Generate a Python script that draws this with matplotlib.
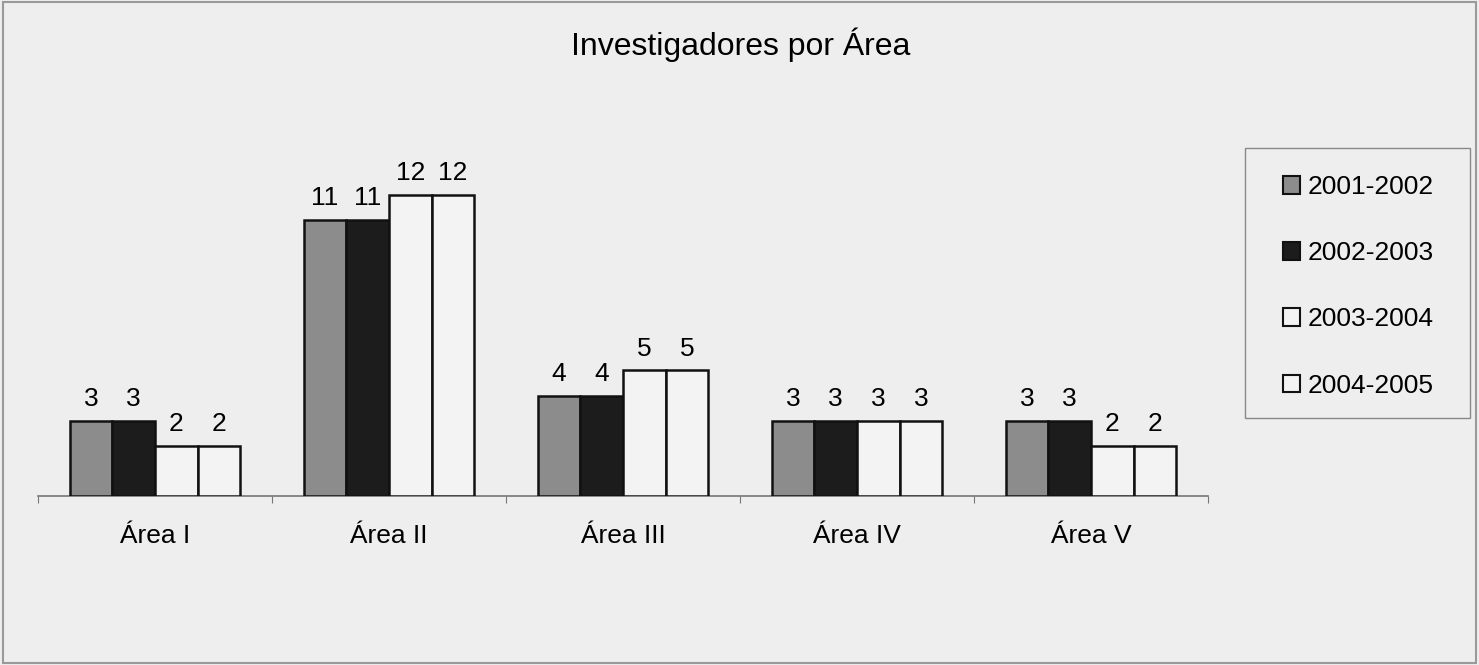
import matplotlib.pyplot as plt
import numpy as np
from matplotlib.patches import Rectangle

plt.rcParams["font.family"] = ["Liberation Sans", "DejaVu Sans"]

# data
areas = ["Área I", "Área II", "Área III", "Área IV", "Área V"]
series_names = ["2001-2002", "2002-2003", "2003-2004", "2004-2005"]
v_2001 = [3, 11, 4, 3, 3]
v_2002 = [3, 11, 4, 3, 3]
v_2003 = [2, 12, 5, 3, 2]
v_2004 = [2, 12, 5, 3, 2]

series_values = [v_2001, v_2002, v_2003, v_2004]
fills = ["#8c8c8c", "#1c1c1c", "#f3f3f3", "#f3f3f3"]
bg = "#eeeeee"
W, H = 1479, 665

fig = plt.figure(figsize=(W / 100, H / 100), dpi=100, facecolor=bg)
ax = fig.add_axes([38 / W, (H - 496) / H, 1170 / W, 402 / H])
ax.set_facecolor(bg)

x = np.arange(len(areas))
width = 0.182
offsets = (np.arange(4) - 1.5) * width
for i, (name, vals) in enumerate(zip(series_names, series_values)):
    bars = ax.bar(x + offsets[i], vals, width, color=fills[i], edgecolor="#111111",
                  linewidth=1.8, label=name, zorder=3)
    for b, v in zip(bars, vals):
        ax.annotate(str(v), (b.get_x() + b.get_width() / 2, v), xytext=(0, 7),
                    textcoords="offset points", ha="center", va="bottom", fontsize=19)

ax.set_xlim(-0.5, len(areas) - 0.5)
ax.set_ylim(0, 16)
for s in ["top", "right", "left"]:
    ax.spines[s].set_visible(False)
ax.spines["bottom"].set_color("#777777")
ax.spines["bottom"].set_linewidth(1.2)
ax.set_yticks([])
ax.set_xticks(np.arange(len(areas) + 1) - 0.5)
ax.set_xticklabels([])
ax.tick_params(axis="x", length=5, color="#777777", direction="out")

# category names under the axis
for xi, name in zip(x, areas):
    ax.annotate(name, (xi, 0), xycoords=("data", "axes fraction"), xytext=(0, -29),
                textcoords="offset points", ha="center", va="center", fontsize=19)

fig.text(741 / W, 1 - 45 / H, "Investigadores por Área", ha="center",
         va="center", fontsize=23)

# legend frame drawn separately so the inner padding matches
fig.patches.append(Rectangle((1245 / W, 1 - 418 / H), 225 / W, 270 / H,
                             transform=fig.transFigure, facecolor=bg,
                             edgecolor="#888888", linewidth=1.0, zorder=1))
leg = fig.legend(loc="upper left", bbox_to_anchor=(1283 / W, 1 - 175 / H),
                 fontsize=19, frameon=False, handlelength=0.65, handleheight=0.65,
                 handletextpad=0.3, labelspacing=1.6, borderpad=0,
                 borderaxespad=0)
leg.set_zorder(2)
for h in leg.legend_handles:
    h.set_linewidth(1.5)

fig.patches.append(Rectangle((0.002, 0.003), 0.996, 0.994, transform=fig.transFigure,
                             fill=False, edgecolor="#9a9a9a", linewidth=1.5))

fig.savefig("out.png", dpi=100, facecolor=bg)
